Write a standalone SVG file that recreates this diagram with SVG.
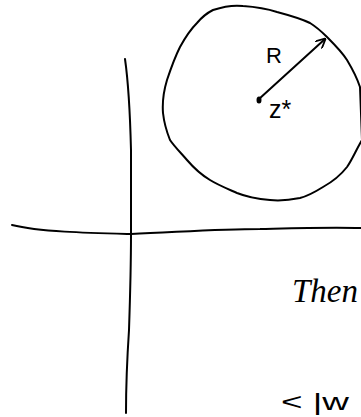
<svg xmlns="http://www.w3.org/2000/svg" width="361" height="417" viewBox="0 0 361 417">
<style>
.s{fill:none;stroke:#000;stroke-width:2;stroke-linecap:round;stroke-linejoin:round}
.t{font-family:"Liberation Sans",sans-serif;fill:#000}
</style>
<defs>
<marker id="ah" viewBox="0 0 10 10" refX="9" refY="5" markerWidth="10" markerHeight="10" markerUnits="userSpaceOnUse" orient="auto">
<path d="M0,0 L10,5 L0,10" fill="none" stroke="#000" stroke-width="1.8"/>
</marker>
</defs>
<rect width="361" height="417" fill="#fff"/>
<g id="axes">
<path class="s" d="M125,59 C128,80 130,110 131,150 C131,190 131,215 131,235 C131,270 130,300 129,330 C127,360 126,390 126,413"/>
<path class="s" d="M12,225 C40,232 90,233 131,234 C180,232 220,229 260,229 C300,228 330,227 361,228"/>
</g>
<g id="disc">
<path class="s" d="M213,10 C225,6 235,5 243,6 C258,7 268,9 277,12 C292,16 302,19 310,23 C318,28 322,32 327,37 C336,46 342,52 347,60 C353,70 357,78 360,87 L362,140 C356,150 352,160 347,167 C340,176 332,182 323,187 C315,192 308,196 300,198 C290,200 280,201 270,200 C258,199 247,197 237,193 C228,189 218,185 210,180 C200,174 193,167 187,160 C180,152 174,146 170,140 C166,130 164,122 163,113 C162,100 164,90 167,80 C171,68 175,57 180,47 C186,36 191,29 197,23 C202,17 207,13 213,10 Z"/>
</g>
<g id="connectors">
<path class="s" d="M259,99 L325,39" marker-end="url(#ah)"/>
</g>
<g id="center">
<ellipse cx="259" cy="100" rx="2.5" ry="3.5" fill="#000"/>
<text class="t" x="266" y="63" font-size="22">R</text>
<text class="t" x="269" y="118" font-size="25">z*</text>
</g>
<g id="notes">
<text x="292" y="302" font-family="'Liberation Serif',serif" font-size="33" font-style="italic">Then</text>
<text class="t" x="281" y="410" font-size="24" textLength="68" lengthAdjust="spacingAndGlyphs">&lt;  |w</text>
</g>
</svg>
